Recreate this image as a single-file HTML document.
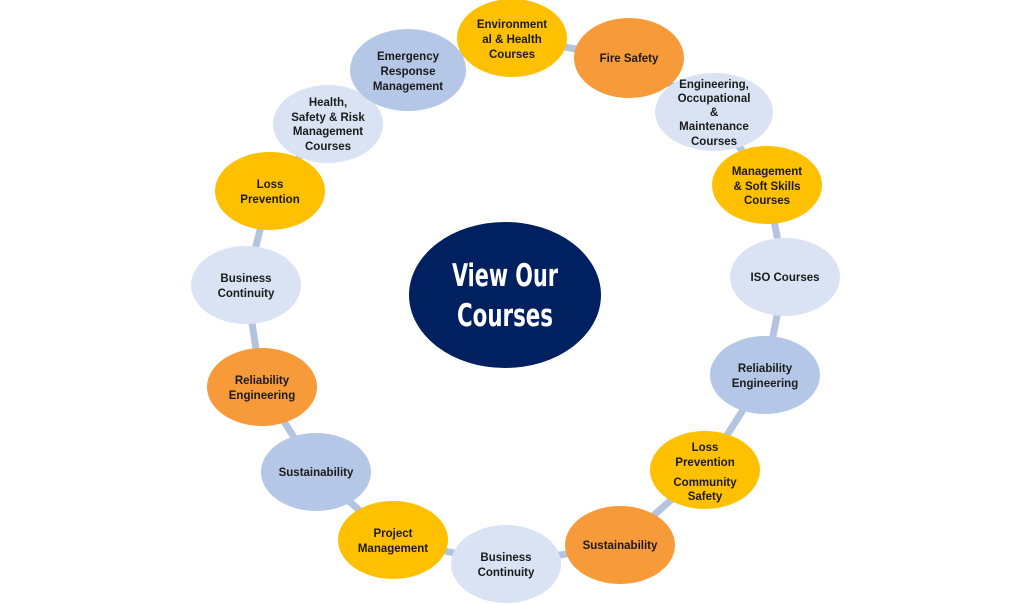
<!DOCTYPE html>
<html><head><meta charset="utf-8"><style>
html,body{margin:0;padding:0;background:#fff;width:1024px;height:604px;overflow:hidden}
text{font-family:"Liberation Sans",sans-serif;font-weight:bold;font-size:11.5px;fill:#1b1b1b;text-anchor:middle}
text.big{fill:#fff;font-size:31px;font-weight:bold;font-family:"DejaVu Sans Condensed","Liberation Sans Narrow",sans-serif}
</style></head><body>
<svg width="1024" height="604" viewBox="0 0 1024 604">
<polygon fill="none" stroke="#B4C4E0" stroke-width="7" points="512,38 629,58 714,112 767,185 785,277 765,375 705,470 620,545 506,564 393,540 316,472 262,387 246,285 270,191 328,124 408,70"/>
<g>
<ellipse cx="512" cy="38" rx="55" ry="39" fill="#FFC000"/>
<ellipse cx="629" cy="58" rx="55" ry="40" fill="#F79A3A"/>
<ellipse cx="714" cy="112" rx="59" ry="39" fill="#DAE3F3"/>
<ellipse cx="767" cy="185" rx="55" ry="39" fill="#FFC000"/>
<ellipse cx="785" cy="277" rx="55" ry="39" fill="#DAE3F3"/>
<ellipse cx="765" cy="375" rx="55" ry="39" fill="#B4C7E7"/>
<ellipse cx="705" cy="470" rx="55" ry="39" fill="#FFC000"/>
<ellipse cx="620" cy="545" rx="55" ry="39" fill="#F79A3A"/>
<ellipse cx="506" cy="564" rx="55" ry="39" fill="#DAE3F3"/>
<ellipse cx="393" cy="540" rx="55" ry="39" fill="#FFC000"/>
<ellipse cx="316" cy="472" rx="55" ry="39" fill="#B4C7E7"/>
<ellipse cx="262" cy="387" rx="55" ry="39" fill="#F79A3A"/>
<ellipse cx="246" cy="285" rx="55" ry="39" fill="#DAE3F3"/>
<ellipse cx="270" cy="191" rx="55" ry="39" fill="#FFC000"/>
<ellipse cx="328" cy="124" rx="55" ry="39" fill="#DAE3F3"/>
<ellipse cx="408" cy="70" rx="58" ry="41" fill="#B4C7E7"/>
<ellipse cx="505" cy="295" rx="96" ry="73" fill="#002060"/>
</g>
<text x="512" y="28">Environment</text><text x="512" y="43">al &amp; Health</text><text x="512" y="58">Courses</text>
<text x="629" y="62">Fire Safety</text>
<text x="714" y="88">Engineering,</text><text x="714" y="102">Occupational</text><text x="714" y="116">&amp;</text><text x="714" y="130">Maintenance</text><text x="714" y="145">Courses</text>
<text x="767" y="175">Management</text><text x="767" y="190">&amp; Soft Skills</text><text x="767" y="204">Courses</text>
<text x="785" y="281">ISO Courses</text>
<text x="765" y="372">Reliability</text><text x="765" y="387">Engineering</text>
<text x="705" y="451">Loss</text><text x="705" y="466">Prevention</text><text x="705" y="486">Community</text><text x="705" y="500">Safety</text>
<text x="620" y="549">Sustainability</text>
<text x="506" y="561">Business</text><text x="506" y="576">Continuity</text>
<text x="393" y="537">Project</text><text x="393" y="552">Management</text>
<text x="316" y="476">Sustainability</text>
<text x="262" y="384">Reliability</text><text x="262" y="399">Engineering</text>
<text x="246" y="282">Business</text><text x="246" y="297">Continuity</text>
<text x="270" y="188">Loss</text><text x="270" y="203">Prevention</text>
<text x="328" y="106">Health,</text><text x="328" y="121">Safety &amp; Risk</text><text x="328" y="135">Management</text><text x="328" y="150">Courses</text>
<text x="408" y="60">Emergency</text><text x="408" y="75">Response</text><text x="408" y="90">Management</text>
<text class="big" x="505" y="286" textLength="106" lengthAdjust="spacingAndGlyphs">View Our</text>
<text class="big" x="505" y="326" textLength="96" lengthAdjust="spacingAndGlyphs">Courses</text>
</svg>
</body></html>
